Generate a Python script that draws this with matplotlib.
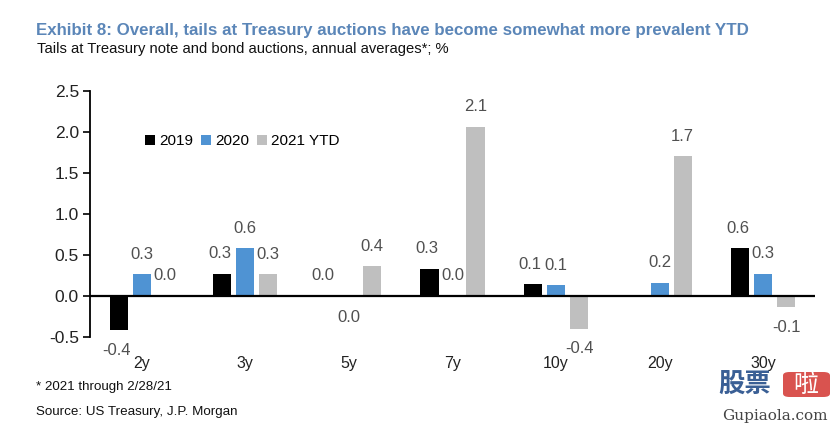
import matplotlib
matplotlib.use("Agg")
import matplotlib.pyplot as plt
import numpy as np
from matplotlib.patches import FancyBboxPatch

categories = ["2y", "3y", "5y", "7y", "10y", "20y", "30y"]
series_names = ["2019", "2020", "2021 YTD"]
v2019 = [-0.42, 0.27, 0.0, 0.33, 0.14, np.nan, 0.58]
v2020 = [0.26, 0.58, -0.02, 0.0, 0.125, 0.16, 0.27]
v2021 = [0.0, 0.26, 0.36, 2.06, -0.40, 1.70, -0.14]
yticks = [-0.5, 0.0, 0.5, 1.0, 1.5, 2.0, 2.5]

colors = ["#000000", "#4f93d3", "#bfbfbf"]
FONT = "Liberation Sans"

W, H = 835, 429
fig = plt.figure(figsize=(W / 100, H / 100), dpi=100)
fig.patch.set_facecolor("white")

ax_l, ax_r, ax_t, ax_b = 90, 815, 90.7, 336.7
ax = fig.add_axes([ax_l / W, 1 - ax_b / H, (ax_r - ax_l) / W, (ax_b - ax_t) / H])

x = np.arange(len(categories))
step = 0.222
width = 0.174
label_color = "#505050"
for i, (vals, col, nm) in enumerate(zip([v2019, v2020, v2021], colors, series_names)):
    pos = x + (i - 1) * step
    ax.bar(pos, vals, width=width, color=col, label=nm, zorder=2)
    for px, v in zip(pos, vals):
        if np.isnan(v):
            continue
        txt = f"{v:.1f}"
        if abs(v) < 0.05:
            txt = "0.0"
        off = 14.4 if v >= 0 else -14.4
        ax.annotate(txt, (px, v), xytext=(-2 if i == 0 else 0, off), textcoords="offset points",
                    ha="center", va="center", fontsize=12, color=label_color,
                    family=FONT)

ax.axhline(0, color="black", lw=1.6, zorder=3)
ax.set_xlim(-0.5, len(categories) - 0.5)
ax.set_ylim(-0.5, 2.5)
ax.set_yticks(yticks)
ax.set_yticklabels([f"{t:.1f}" for t in yticks], fontsize=12.5, family=FONT, color="#222222")
ax.set_xticks(x)
ax.set_xticklabels(categories, fontsize=11.5, family=FONT, color="#222222")
ax.tick_params(axis="x", length=0, pad=14)
ax.tick_params(axis="y", length=5, width=1.2, pad=3, direction="out")
for s in ["top", "right", "bottom"]:
    ax.spines[s].set_visible(False)
ax.spines["left"].set_linewidth(1.3)

leg = ax.legend(loc="center left", bbox_to_anchor=((145 - ax_l) / (ax_r - ax_l), (ax_b - 141) / (ax_b - ax_t)),
                ncol=3, frameon=False, handlelength=0.65, handleheight=0.65, handletextpad=0.25,
                columnspacing=0.55, borderpad=0, borderaxespad=0,
                prop={"family": FONT, "size": 11})

fig.text(36 / W, 1 - 30 / H, "Exhibit 8: Overall, tails at Treasury auctions have become somewhat more prevalent YTD",
         fontsize=12.2, fontweight="bold", color="#5b86b8", family=FONT, va="center", ha="left")
fig.text(37 / W, 1 - 49 / H, "Tails at Treasury note and bond auctions, annual averages*; %",
         fontsize=10.6, color="#111111", family=FONT, va="center", ha="left")
fig.text(36 / W, 1 - 387 / H, "* 2021 through 2/28/21", fontsize=9.6, color="#111111",
         family=FONT, va="center", ha="left")
fig.text(36 / W, 1 - 412 / H, "Source: US Treasury, J.P. Morgan", fontsize=9.6, color="#111111",
         family=FONT, va="center", ha="left")

# watermark
cjk = ["Noto Sans CJK SC", "DejaVu Sans"]
fig.text(718 / W, 1 - 385 / H, "股票", fontsize=19, fontweight="bold", color="#3a5f95",
         family=cjk, va="center", ha="left")
box = FancyBboxPatch((783 / W, 1 - 397 / H), 47 / W, 25 / H, boxstyle="round,pad=0,rounding_size=0.008",
                     transform=fig.transFigure, facecolor="#d9534f", edgecolor="none")
fig.add_artist(box)
fig.text(806 / W, 1 - 385 / H, "啦", fontsize=18, color="white", family=cjk, va="center", ha="center")
fig.text(775 / W, 1 - 416 / H, "Gupiaola.com", fontsize=11, color="#444444", family="DejaVu Serif",
         va="center", ha="center")

fig.savefig("out.png", dpi=100, facecolor="white")
